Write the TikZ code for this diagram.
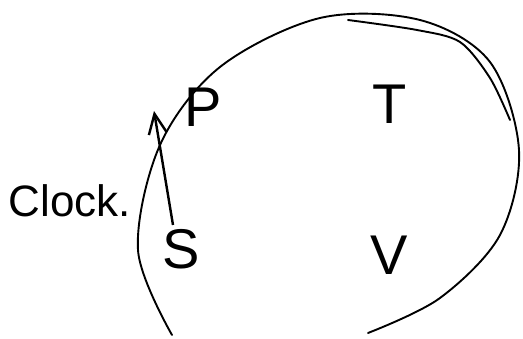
\documentclass[tikz,border=0pt]{standalone}
\usepackage{fontspec}
\setmainfont{Liberation Sans}
\usetikzlibrary{arrows.meta, positioning}

\begin{document}
\begin{tikzpicture}[
    x=1pt, y=-1pt,
    letter/.style={inner sep=0pt, font=\fontsize{56}{56}\selectfont},
    tag/.style={inner sep=0pt, font=\fontsize{44}{44}\selectfont},
    loop/.style={draw=black, line width=1.9pt, line cap=round},
    conn/.style={draw=black, line width=2.4pt, -{Straight Barb[length=20pt, width=18pt, line width=2.4pt]}}
]
    \useasboundingbox (0,0) rectangle (523,339);

    % Letters inside the loop
    \node (P) at (203,107) [letter] {P};
    \node (T) at (390,104) [letter] {T};
    \node (S) at (181,249) [letter] {S};
    \node (V) at (389,255) [letter] {V};

    % Label on the left
    \node (clock) at (70,201) [tag] {Clock.};

    % The big loop
    \draw [loop] plot[smooth, tension=0.55] coordinates {
        (172,335) (138,250) (160,145) (220,67) (320,18) (420,20)
        (490,62) (519,150) (500,235) (440,298) (368,333)};
    \draw [loop] plot[smooth, tension=0.5] coordinates {
        (348,20) (417,30) (460,42) (490,78) (510,120)};

    % Arrow from S up past P
    \coordinate (tip) at (154,111);
    \draw [conn] (S.north) ++(-8,-4) -- (tip);

\end{tikzpicture}
\end{document}
